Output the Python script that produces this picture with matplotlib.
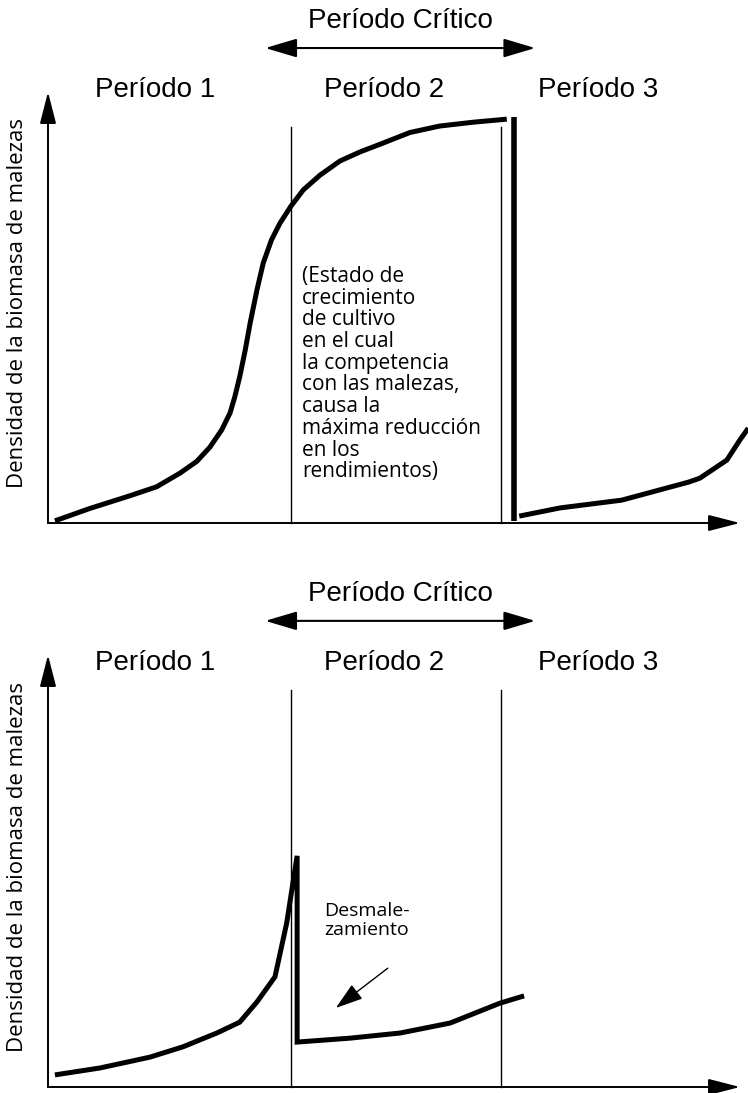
import matplotlib.pyplot as plt

# Datos del esquema (tiempo y densidad en escala 0-100)
periodos = ["Período 1", "Período 2", "Período 3"]
x_periodos = [15.5, 48.6, 79.5]
limites_critico = [35.1, 65.5]           # inicio y fin del período crítico
alto_limites = 91.9

# Panel superior: crecimiento sin control hasta el desmalezamiento tardío
t_sup = [1.0, 6.1, 11.8, 15.7, 19.1, 21.5, 23.4, 25.1, 26.3, 27.0, 27.7, 28.5, 29.2, 30.2,
         31.1, 32.3, 33.5, 35.1, 36.9, 39.3, 42.2, 45.1, 48.5, 52.3, 56.6, 61.5, 66.3]
d_sup = [0.5, 3.4, 6.3, 8.4, 11.6, 14.3, 17.6, 21.6, 25.5, 29.3, 33.9, 40.1, 46.3, 54.1,
         60.3, 65.7, 69.5, 73.5, 77.3, 80.7, 84.0, 86.1, 88.2, 90.6, 92.1, 93.0, 93.7]
t_corte_sup = [67.3, 67.3]
d_corte_sup = [94.2, 0.4]
t_rebrote_sup = [68.1, 74.0, 82.9, 92.6, 94.2, 98.1, 100.0, 101.2]
d_rebrote_sup = [1.6, 3.5, 5.3, 9.5, 10.4, 14.6, 19.3, 22.0]

# Panel inferior: desmalezamiento al inicio del período crítico
t_inf = [1.0, 7.5, 14.7, 19.5, 24.4, 27.7, 30.2, 32.8, 34.5, 36.0,
         36.0, 43.6, 50.9, 58.1, 65.3, 68.8]
d_inf = [2.8, 4.4, 6.9, 9.3, 12.5, 15.0, 19.7, 25.5, 38.0, 53.5,
         10.4, 11.3, 12.5, 14.8, 19.4, 21.1]

lineas_estado = ["(Estado de", "crecimiento", "de cultivo", "en el cual", "la competencia",
                 "con las malezas,", "causa la", "máxima reducción", "en los", "rendimientos)"]
lineas_desm = ["Desmale-", "zamiento"]

W, H = 748, 1093
fig = plt.figure(figsize=(W / 100, H / 100), dpi=100)


def caja(izq, arriba, der, abajo):
    return [izq / W, 1 - abajo / H, (der - izq) / W, (abajo - arriba) / H]


def ejes_base(ax, y_titulo, y_flecha, y_periodos):
    ax.set_xlim(0, 100)
    ax.set_ylim(0, 100)
    ax.axis("off")
    flecha = dict(arrowstyle="-|>,head_length=1.95,head_width=0.5", color="black",
                  lw=1.4, shrinkA=0, shrinkB=0, mutation_scale=10)
    ax.annotate("", xy=(100, 0), xytext=(0, 0), arrowprops=flecha, annotation_clip=False)
    ax.annotate("", xy=(0, 100), xytext=(0, 0), arrowprops=flecha, annotation_clip=False)
    for xl in limites_critico:
        ax.plot([xl, xl], [0, alto_limites], color="black", lw=1.0, clip_on=False)
    ax.text(50.9, y_titulo, "Período Crítico", ha="center", va="baseline",
            family="Liberation Sans", fontsize=20)
    doble = dict(arrowstyle="<|-|>,head_length=1.95,head_width=0.58", color="black",
                 lw=1.5, shrinkA=0, shrinkB=0, mutation_scale=10)
    ax.annotate("", xy=(70.4, y_flecha), xytext=(31.4, y_flecha), arrowprops=doble,
                annotation_clip=False)
    for nombre, xp in zip(periodos, x_periodos):
        ax.text(xp, y_periodos, nombre, ha="center", va="baseline",
                family="Liberation Sans", fontsize=20)
    ax.text(-4.4, 51, "Densidad de la biomasa de malezas", rotation=90, ha="center",
            va="center", family="Open Sans", fontsize=16)


ax1 = fig.add_axes(caja(48, 92, 740, 523))
ejes_base(ax1, 114.8, 110.2, 98.8)
ax1.plot(t_sup, d_sup, color="black", lw=3.6, solid_capstyle="butt", clip_on=False)
ax1.plot(t_corte_sup, d_corte_sup, color="black", lw=4.0, solid_capstyle="butt", clip_on=False)
ax1.plot(t_rebrote_sup, d_rebrote_sup, color="black", lw=3.6, solid_capstyle="butt",
         clip_on=False)
for i, linea in enumerate(lineas_estado):
    ax1.text(36.7, 55.9 - 5.03 * i, linea, ha="left", va="baseline",
             family="Open Sans", fontsize=15)

ax2 = fig.add_axes(caja(48, 655, 740, 1087))
ejes_base(ax2, 112.5, 107.9, 96.5)
ax2.plot(t_inf, d_inf, color="black", lw=3.6, solid_capstyle="butt",
         solid_joinstyle="miter", clip_on=False)
for i, linea in enumerate(lineas_desm):
    ax2.text(39.9, 39.6 - 4.3 * i, linea, ha="left", va="baseline",
             family="Open Sans", fontsize=14)
ax2.annotate("", xy=(41.6, 18.3), xytext=(49.1, 27.5),
             arrowprops=dict(arrowstyle="-|>,head_length=1.7,head_width=0.55", color="black",
                             lw=1.0, shrinkA=0, shrinkB=0, mutation_scale=10))

fig.savefig("out.png", dpi=100)
